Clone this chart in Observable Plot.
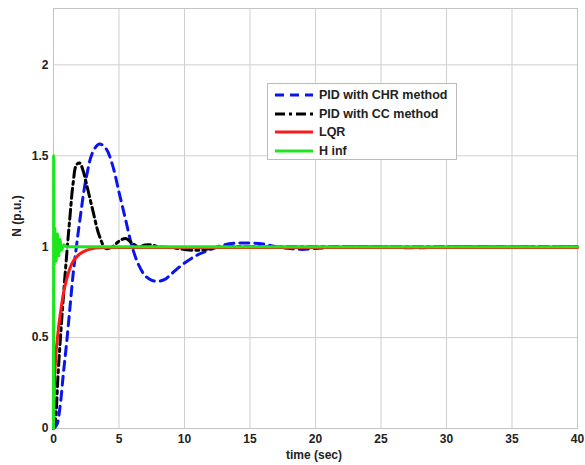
<!DOCTYPE html>
<html><head><meta charset="utf-8">
<script src="https://cdn.jsdelivr.net/npm/d3@7"></script>
<script src="https://cdn.jsdelivr.net/npm/@observablehq/plot@0.6"></script>
<style>
body{margin:0;background:#fff;font-family:"Liberation Sans",Arial,sans-serif}
#wrap{position:relative;width:585px;height:465px}
.lbl{position:absolute;font-weight:bold;font-size:12px;color:#222;white-space:nowrap}
#legend{position:absolute;left:267px;top:83px;width:190px;height:77px;background:#fff;border:1px solid #bbb;box-sizing:border-box}
.row{position:absolute;left:6px;height:14px;display:flex;align-items:center;font-weight:bold;font-size:12.5px;color:#222}
.row svg{margin-right:5px}
</style></head><body><div id="wrap"></div>
<script>
// PID with CHR method (blue dashed)
const chrT = [0,0.25,0.5,0.75,1,1.25,1.5,1.75,2,2.5,3,3.5,4,4.5,5,5.5,6,6.5,7,7.5,8,8.5,9,10,11,12,13,14,15,16,17,18,19,20,22,25,27,28,30,35,40];
const chrV = [0,0.02,0.12,0.3,0.47,0.66,0.85,1.0,1.14,1.38,1.52,1.565,1.54,1.45,1.3,1.15,1.0,0.9,0.84,0.815,0.81,0.82,0.85,0.91,0.955,0.985,1.01,1.02,1.02,1.015,1.0,0.99,0.985,0.99,1.0,1.0,0.994,0.994,1.0,1.0,1.0];
// PID with CC method (black dash-dot)
const ccT = [0,0.15,0.35,0.55,0.75,1.0,1.25,1.5,1.75,2.0,2.25,2.5,3,3.5,4,4.5,5,5.5,6,6.5,7,7.5,8,9,10,11,12,13,15,20,30,40];
const ccV = [0,0.05,0.3,0.52,0.72,0.95,1.16,1.35,1.45,1.46,1.42,1.35,1.2,1.06,0.99,1.0,1.03,1.045,1.02,1.0,1.01,1.01,1.0,0.995,0.985,0.98,0.99,1.0,1.0,1.0,1.0,1.0];
// LQR (red)
const lqrT = [0,0.05,0.1,0.2,0.3,0.5,0.75,1,1.25,1.5,2,2.5,3,3.5,4,10,20,30,40];
const lqrV = [0,0.2,0.3,0.42,0.5,0.62,0.74,0.82,0.88,0.92,0.96,0.98,0.99,0.994,0.995,0.995,0.995,0.995,0.995];
// H inf (green)
const hinfT = [0,0.01,0.05,0.1,0.2,0.3,0.4,0.5,0.6,0.8,1,10,20,30,40];
const hinfV = [0,1.5,0.9,1.1,0.92,1.07,0.95,1.04,0.98,1.01,1.0,1.0,1.0,1.0,1.0];

const seriesNames = ["PID with CHR method","PID with CC method","LQR","H inf"];
const seriesColors = ["#0a14f0","#000000","#ff1a1a","#1ee61e"];
const seriesDash = ["9,6","10,4,3,4",null,null];
const xTicks = [0,5,10,15,20,25,30,35,40];
const yTicks = [0,0.5,1,1.5,2];
const xLabel = "time (sec)";
const yLabel = "N (p.u.)";

const toRows = (T,V) => T.map((t,i)=>({t, v:V[i]}));
const chr = toRows(chrT,chrV), cc = toRows(ccT,ccV), lqr = toRows(lqrT,lqrV), hinf = toRows(hinfT,hinfV);

const plot = Plot.plot({
  width: 585, height: 465,
  marginLeft: 53, marginRight: 8, marginTop: 8, marginBottom: 37,
  style: {fontFamily: '"Liberation Sans", Arial, sans-serif', fontSize: "12px", fontWeight: "bold", color: "#222", background: "#fff"},
  x: {domain: [0,40], label: null},
  y: {domain: [0,2.31], label: null},
  marks: [
    Plot.gridX(xTicks, {stroke: "#cfcfcf", strokeOpacity: 1}),
    Plot.gridY(yTicks, {stroke: "#cfcfcf", strokeOpacity: 1}),
    Plot.frame({stroke: "#c4c4c4"}),
    Plot.axisX(xTicks, {tickSize: 0, tickPadding: 6, tickFormat: d => String(d), label: null}),
    Plot.axisY(yTicks, {tickSize: 0, tickPadding: 5, tickFormat: d => String(d), label: null}),
    Plot.line(chr, {x:"t", y:"v", stroke: seriesColors[0], strokeWidth: 3, strokeDasharray: seriesDash[0], curve: "catmull-rom"}),
    Plot.line(cc, {x:"t", y:"v", stroke: seriesColors[1], strokeWidth: 3, strokeDasharray: seriesDash[1], curve: "catmull-rom"}),
    Plot.line(lqr, {x:"t", y:"v", stroke: seriesColors[2], strokeWidth: 3, curve: "catmull-rom"}),
    Plot.line(hinf, {x:"t", y:"v", stroke: seriesColors[3], strokeWidth: 3})
  ]
});
const wrap = document.getElementById("wrap");
wrap.appendChild(plot);

const xl = document.createElement("div");
xl.className = "lbl"; xl.textContent = xLabel;
xl.style.left = "314px"; xl.style.top = "448px"; xl.style.transform = "translateX(-50%)";
wrap.appendChild(xl);
const yl = document.createElement("div");
yl.className = "lbl"; yl.textContent = yLabel;
yl.style.left = "17px"; yl.style.top = "216px"; yl.style.transform = "translate(-50%,-50%) rotate(-90deg)";
wrap.appendChild(yl);

const lg = document.createElement("div"); lg.id = "legend";
seriesNames.forEach((name,i)=>{
  const r = document.createElement("div"); r.className = "row";
  r.style.top = (4 + i*18.5) + "px";
  r.innerHTML = `<svg width="40" height="6"><line x1="1" y1="3" x2="39" y2="3" stroke="${seriesColors[i]}" stroke-width="3" ${seriesDash[i] ? `stroke-dasharray="${seriesDash[i]}"` : ""}/></svg><span>${name}</span>`;
  lg.appendChild(r);
});
wrap.appendChild(lg);
</script>
</body></html>
